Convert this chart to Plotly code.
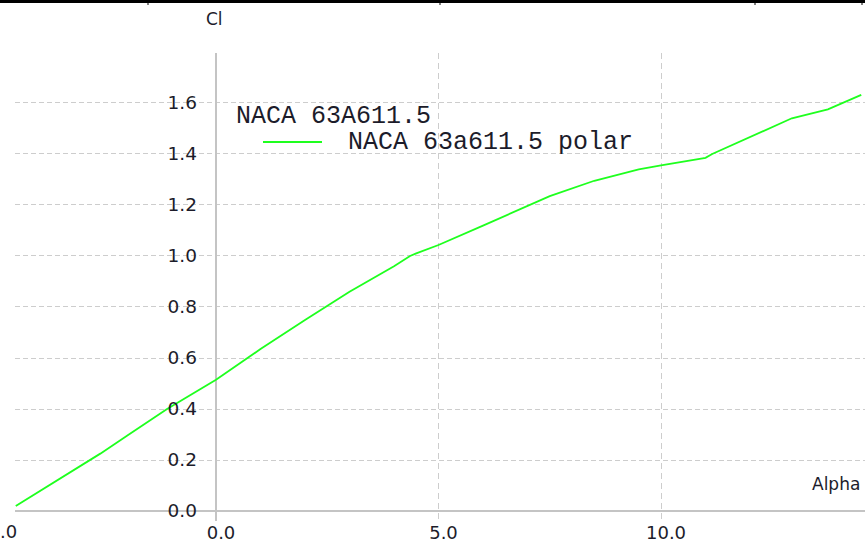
import plotly.graph_objects as go

# ---- data ----
alpha = [-4.5, -3.5, -2.6, -2.0, -1.1, 0.0, 0.69, 1.0, 2.0, 2.45, 3.0, 4.0, 4.36, 4.5,
         5.0, 6.0, 7.06, 7.5, 8.5, 9.5, 10.0, 11.0, 11.15, 12.0, 12.94, 13.75, 14.5]
cl = [0.02, 0.128, 0.225, 0.295, 0.40, 0.515, 0.60, 0.635, 0.749, 0.80, 0.86, 0.96, 1.0, 1.01,
      1.043, 1.119, 1.20, 1.235, 1.295, 1.34, 1.355, 1.385, 1.40, 1.466, 1.54, 1.575, 1.632]
series_name = "NACA 63a611.5 polar"
legend_title = "NACA 63A611.5"
x_ticks = [0, 5, 10]
x_tick_text = ["0.0", "5.0", "10.0"]
y_ticks = [0.0, 0.2, 0.4, 0.6, 0.8, 1.0, 1.2, 1.4, 1.6]
y_tick_text = ["0.0", "0.2", "0.4", "0.6", "0.8", "1.0", "1.2", "1.4", "1.6"]

# ---- layout geometry (pixels) ----
WIDTH, HEIGHT = 865, 544
L, R, T, B = 15, 865, 53, 521
PW, PH = R - L, B - T

def xp(px):
    return (px - L) / PW

def yp(py):
    return (B - py) / PH

GREEN = "#1eff1e"
GRID = "#cdcdcd"
AXIS = "#c4c4c4"
TXT = "#1c1c2a"
SANS = "DejaVu Sans"
MONO = "Liberation Mono"

fig = go.Figure()
fig.add_trace(go.Scatter(x=alpha, y=cl, mode="lines", name=series_name,
                         line=dict(color=GREEN, width=1.8), showlegend=False))

fig.update_layout(
    width=WIDTH, height=HEIGHT,
    margin=dict(l=L, r=WIDTH - R, t=T, b=HEIGHT - B, autoexpand=False),
    paper_bgcolor="white", plot_bgcolor="white",
    showlegend=False,
    xaxis=dict(range=[-4.517, 14.584], anchor="free", position=yp(511),
               tickvals=x_ticks, ticktext=x_tick_text, ticks="",
               tickfont=dict(family=SANS, size=18, color=TXT),
               showgrid=True, gridcolor=GRID, gridwidth=1, griddash="6px,4px",
               zeroline=True, zerolinecolor=AXIS, zerolinewidth=2,
               showline=False, automargin=False, ticklabelstandoff=9,
               ticklabelshift=5),
    yaxis=dict(range=[-0.0392, 1.796], anchor="free", position=xp(216),
               tickvals=y_ticks, ticktext=y_tick_text, ticks="",
               tickfont=dict(family=SANS, size=18.5, color=TXT),
               showgrid=True, gridcolor=GRID, gridwidth=1, griddash="5px,3px",
               zeroline=True, zerolinecolor=AXIS, zerolinewidth=2,
               showline=False, automargin=False, ticklabelstandoff=19),
)

ann = [
    # axis titles
    dict(text="Cl", x=xp(214), y=yp(19), xanchor="center", yanchor="middle",
         font=dict(family=SANS, size=17, color=TXT)),
    dict(text="Alpha", x=xp(862), y=yp(484), xanchor="right", yanchor="middle",
         font=dict(family=SANS, size=17, color=TXT)),
    # clipped tick label at -5
    dict(text="-5.0", x=xp(19), y=yp(531), xanchor="right", yanchor="middle",
         font=dict(family=SANS, size=18, color=TXT)),
    # legend
    dict(text=legend_title, x=xp(234), y=yp(117), xanchor="left", yanchor="middle",
         font=dict(family=MONO, size=25, color=TXT)),
    dict(text=series_name, x=xp(346), y=yp(142), xanchor="left", yanchor="middle",
         font=dict(family=MONO, size=25, color=TXT)),
]
for a in ann:
    a.update(xref="paper", yref="paper", showarrow=False)
fig.update_layout(annotations=ann)

shapes = [
    dict(type="line", x0=xp(263), x1=xp(322), y0=yp(142), y1=yp(142),
         line=dict(color=GREEN, width=1.8)),
    # top page border
    dict(type="line", x0=xp(0), x1=xp(865), y0=yp(1.5), y1=yp(1.5),
         line=dict(color="black", width=3)),
]
for tx in [148, 440, 755, 862]:
    shapes.append(dict(type="line", x0=xp(tx), x1=xp(tx), y0=yp(0), y1=yp(5),
                       line=dict(color="black", width=1)))
for s in shapes:
    s.update(xref="paper", yref="paper", layer="above")
fig.update_layout(shapes=shapes)

fig.write_html("out.html", config={"displayModeBar": False},
               post_script="document.body.style.margin='0';document.body.style.overflow='hidden';")
